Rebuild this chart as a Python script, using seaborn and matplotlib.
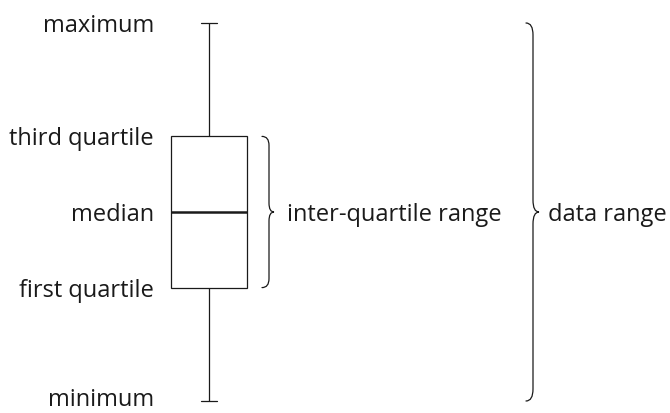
import numpy as np
import pandas as pd
import seaborn as sns
import matplotlib
matplotlib.use("Agg")
import matplotlib.pyplot as plt
from matplotlib.path import Path
from matplotlib.patches import PathPatch

# ---- data (five-number summary of an illustrative sample) ----
sample_values = [0, 3, 5, 7, 10]
stat_labels = ["minimum", "first quartile", "median", "third quartile", "maximum"]
range_labels = ["inter-quartile range", "data range"]

sns.set_theme(style="white")
plt.rcParams["font.family"] = ["Open Sans", "DejaVu Sans"]

W, H = 670, 413
fig = plt.figure(figsize=(W / 100, H / 100), dpi=100)
ax = fig.add_axes([0, 0, 1, 1])

df = pd.DataFrame({"value": sample_values, "group": ["g"] * len(sample_values)})
ink = "#1a1a1a"
sns.boxplot(data=df, x="group", y="value", ax=ax, width=0.8, whis=1.5,
            color="white", linecolor=ink, linewidth=0.9, fill=True,
            medianprops={"linewidth": 1.8, "color": ink},
            whiskerprops={"color": ink}, capprops={"color": ink},
            boxprops={"edgecolor": ink, "facecolor": "white"},
            capwidths=0.17)

# layout: pixel-based x coordinates converted to data units
PX_PER_UNIT = 95.0
CX = 209.0
def px(x):
    return (x - CX) / PX_PER_UNIT

vmin, q1, med, q3, vmax = np.percentile(sample_values, [0, 25, 50, 75, 100])
R = (vmax - vmin) / (378 / H)
ymin = vmin - 12 / H * R
ax.set_ylim(ymin, ymin + R)
ax.set_xlim(px(0), px(W))
ax.axis("off")

UNIT_PER_PX_Y = R / H

def brace(x0, x1, x2, ytop, ybot, r_px=10):
    r = r_px * UNIT_PER_PX_Y
    ym = (ytop + ybot) / 2
    verts = [
        (x0, ytop), (x1, ytop), (x1, ytop - r),
        (x1, ym + r), (x1, ym), (x2, ym),
        (x1, ym), (x1, ym - r),
        (x1, ybot + r), (x1, ybot), (x0, ybot),
    ]
    codes = [Path.MOVETO, Path.CURVE3, Path.CURVE3,
             Path.LINETO, Path.CURVE3, Path.CURVE3,
             Path.CURVE3, Path.CURVE3,
             Path.LINETO, Path.CURVE3, Path.CURVE3]
    ax.add_patch(PathPatch(Path(verts, codes), fill=False, edgecolor=ink,
                           linewidth=0.9, capstyle="round"))

brace(px(262), px(269), px(274), q3, q1, r_px=9)
brace(px(526), px(533), px(539), vmax, vmin, r_px=12)

fs = 17
dy = -3 * UNIT_PER_PX_Y
offsets = [1.5 * UNIT_PER_PX_Y, dy, dy, dy, dy]
for v, lab, off in zip([vmin, q1, med, q3, vmax], stat_labels, offsets):
    ax.text(px(154), v + off, lab, ha="right", va="center", fontsize=fs, color=ink)

ax.text(px(287), med + dy, range_labels[0], ha="left", va="center", fontsize=fs, color=ink)
ax.text(px(548), med + dy, range_labels[1], ha="left", va="center", fontsize=fs, color=ink)

fig.savefig("out.png", dpi=100)
